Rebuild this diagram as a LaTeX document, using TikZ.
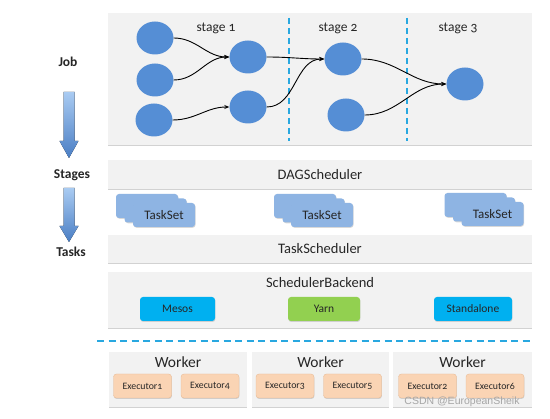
\documentclass[tikz,border=0pt]{standalone}
\usepackage{fontspec}
\setmainfont{Carlito}[Numbers=OldStyle]
\newfontfamily\wmfont{Liberation Sans}
\usetikzlibrary{shadows,arrows.meta,shapes.geometric}
\definecolor{panel}{HTML}{F2F2F2}
\definecolor{circ}{HTML}{558ED5}
\definecolor{tset}{HTML}{8EB4E3}
\definecolor{cyanb}{HTML}{00B0F0}
\definecolor{yarnc}{HTML}{92D050}
\definecolor{execc}{HTML}{FAD4B4}
\definecolor{execb}{HTML}{E9BC96}
\definecolor{dashc}{HTML}{29A8E0}
\definecolor{txt}{HTML}{262626}
\definecolor{arrtop}{HTML}{A9CBF2}
\definecolor{arrbot}{HTML}{4A7EC4}
\tikzset{
  fs/.style={font=\fontsize{#1}{#1}\selectfont},
  panelbox/.style={fill=panel, draw=none, drop shadow={shadow xshift=0pt, shadow yshift=-1.2pt, opacity=0.35, fill=gray}},
  dagnode/.style={ellipse, fill=circ, minimum width=37, minimum height=33, inner sep=0},
  conn/.style={-{Stealth[length=5pt,width=4pt]}, line width=0.9pt, black},
  card/.style={fill=tset, rounded corners=3pt, minimum width=62, minimum height=24, inner sep=0, text=txt, fs=13,
     drop shadow={shadow xshift=0.6pt, shadow yshift=-0.8pt, opacity=0.3}},
  cluster/.style={fill=#1, rounded corners=3pt, minimum height=24, inner sep=0, text=txt, fs=11.5,
     drop shadow={shadow xshift=0.4pt, shadow yshift=-1pt, opacity=0.3}},
  execbox/.style={fill=execc, draw=execb, line width=0.4pt, rounded corners=3pt, minimum width=58, minimum height=24, inner sep=0, text=txt, fs=9.8,
     drop shadow={shadow xshift=0.4pt, shadow yshift=-1pt, opacity=0.3}},
  barlabel/.style={text=txt, fs=14.5, inner sep=0},
  sidelabel/.style={text=txt, font=\fontsize{13.5}{13.5}\selectfont\bfseries, inner sep=0},
  stagedash/.style={dashc, line width=1.6pt, dash pattern=on 6pt off 4pt},
  bigarrow/.style={top color=arrtop, bottom color=arrbot, draw=none},
}
\begin{document}
\begin{tikzpicture}[x=1pt,y=-1pt]
\useasboundingbox (0,0) rectangle (550,419);
\fill[white] (0,0) rectangle (550,419);

% ---- panels
\node[panelbox, minimum width=424, minimum height=132] (job) at (320,79) {};
\node[panelbox, minimum width=424, minimum height=29] (dag) at (320,174.5) {};
\node[panelbox, minimum width=424, minimum height=28] (ts) at (320,249) {};
\node[panelbox, minimum width=424, minimum height=56] (sb) at (320,300) {};
\node[panelbox, minimum width=138, minimum height=55] (w1) at (178,379.5) {};
\node[panelbox, minimum width=137, minimum height=55] (w2) at (320.5,379.5) {};
\node[panelbox, minimum width=139, minimum height=55] (w3) at (462.5,379.5) {};

% ---- side labels and arrows
\node[sidelabel] (ljob) at (68,62) {Job};
\node[sidelabel] (lstages) at (72,175) {Stages};
\node[sidelabel] (ltasks) at (71,252) {Tasks};
\fill[bigarrow] (63.5,92) -- (74.5,92) -- (74.5,141) -- (78.5,141) -- (69,158) -- (59.5,141) -- (63.5,141) -- cycle;
\fill[bigarrow] (63.5,188) -- (74.5,188) -- (74.5,226) -- (78.5,226) -- (69,242) -- (59.5,226) -- (63.5,226) -- cycle;

% ---- stage separators
\draw[stagedash] (289,18) -- (289,141);
\draw[stagedash] (407,18) -- (407,141);

% ---- stage labels
\node[barlabel, fs=13.5] (s1) at (216,28) {stage 1};
\node[barlabel, fs=13.5] (s2) at (338,28) {stage 2};
\node[barlabel, fs=13.5] (s3) at (458,28) {stage 3};

% ---- DAG nodes
\node[dagnode] (c1) at (155,38) {};
\node[dagnode] (c2) at (155,80) {};
\node[dagnode] (c3) at (154,120) {};
\node[dagnode] (c4) at (248,57) {};
\node[dagnode] (c5) at (248,107) {};
\node[dagnode] (c6) at (343,59) {};
\node[dagnode] (c7) at (346,115) {};
\node[dagnode] (c8) at (465,84) {};

\draw[conn] (c1.east) to[out=0,in=180] (c4.west);
\draw[conn] (c2.east) to[out=0,in=180] (c4.west);
\draw[conn] (c3.east) to[out=0,in=180] (c5.west);
\draw[conn] (c4.east) to[out=0,in=180] (c6.west);
\draw[conn] (c5.east) to[out=0,in=180] (c6.west);
\draw[conn] (c6.east) to[out=0,in=180] (c8.west);
\draw[conn] (c7.east) to[out=0,in=180] (c8.west);

% ---- bar labels
\node[barlabel] (ldag) at (320,175) {DAGScheduler};
\node[barlabel] (lts) at (320,249) {TaskScheduler};
\node[barlabel] (lsb) at (320,283) {SchedulerBackend};

% ---- TaskSet stacks
\node[card] (t1c) at (147,206) {};
\node[card] (t1b) at (155.5,210.5) {};
\node[card] (t1a) at (164,215) {TaskSet};
\node[card] (t2c) at (305,206) {};
\node[card] (t2b) at (313.5,210.5) {};
\node[card] (t2a) at (322,215) {TaskSet};
\node[card] (t3c) at (475.5,205) {};
\node[card] (t3b) at (484,209.5) {};
\node[card] (t3a) at (492.5,214) {TaskSet};

% ---- cluster managers
\node[cluster=cyanb, minimum width=75] (mesos) at (177.5,309) {Mesos};
\node[cluster=yarnc, minimum width=72] (yarn) at (324,309) {Yarn};
\node[cluster=cyanb, minimum width=78] (standalone) at (473,309) {Standalone};

% ---- separator
\draw[stagedash, line width=1.7pt, dash pattern=on 7pt off 4.5pt] (97,341) -- (532,341);

% ---- workers
\node[barlabel, fs=15.5] (lw1) at (178,362) {Worker};
\node[barlabel, fs=15.5] (lw2) at (320.5,362) {Worker};
\node[barlabel, fs=15.5] (lw3) at (462.5,362) {Worker};
\node[execbox] (e1) at (142.5,386) {Executor1};
\node[execbox] (e4) at (210,386) {Executor4};
\node[execbox] (e3) at (285,386) {Executor3};
\node[execbox] (e5) at (352.5,386) {Executor5};
\node[execbox] (e2) at (427.5,386) {Executor2};
\node[execbox] (e6) at (495,386) {Executor6};

% ---- watermark
\node[inner sep=0, text=gray!70, font=\wmfont\fontsize{10.5}{10.5}\selectfont] (wm) at (462,402) {CSDN @EuropeanSheik};
\end{tikzpicture}
\end{document}
